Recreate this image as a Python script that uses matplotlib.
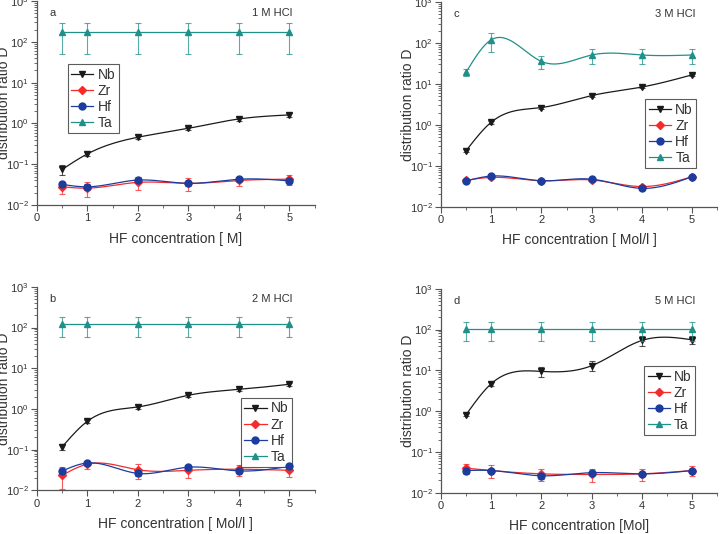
import numpy as np
import matplotlib
matplotlib.use("Agg")
import matplotlib.pyplot as plt
from matplotlib.ticker import LogLocator, MultipleLocator, NullFormatter

plt.rcParams['font.family'] = ['Liberation Sans', 'DejaVu Sans']
plt.rcParams['mathtext.default'] = 'regular'

hf = [0.5, 1, 2, 3, 4, 5]

# Panel a: 1 M HCl
a_nb = [0.075, 0.18, 0.46, 0.76, 1.29, 1.62]
a_nb_err = [0.02, 0.02, 0.05, 0.08, 0.12, 0.15]
a_zr = [0.028, 0.026, 0.036, 0.034, 0.040, 0.043]
a_zr_err = [0.009, 0.010, 0.012, 0.012, 0.010, 0.012]
a_hf = [0.032, 0.028, 0.041, 0.034, 0.043, 0.039]
a_hf_err = [0.004, 0.004, 0.004, 0.004, 0.004, 0.005]
a_ta = [170, 170, 170, 170, 170, 170]
a_ta_err = [120, 120, 120, 120, 120, 120]

# Panel b: 2 M HCl
b_nb = [0.118, 0.50, 1.12, 2.17, 3.02, 4.04]
b_nb_err = [0.02, 0.05, 0.12, 0.2, 0.3, 0.4]
b_zr = [0.0235, 0.044, 0.032, 0.031, 0.033, 0.031]
b_zr_err = [0.013, 0.010, 0.013, 0.011, 0.010, 0.010]
b_hf = [0.030, 0.047, 0.026, 0.037, 0.030, 0.039]
b_hf_err = [0.004, 0.004, 0.004, 0.003, 0.004, 0.003]
b_ta = [120, 120, 120, 120, 120, 120]
b_ta_err = [60, 60, 60, 60, 60, 60]

# Panel c: 3 M HCl
c_nb = [0.234, 1.16, 2.65, 5.2, 8.4, 16.7]
c_nb_err = [0.02, 0.1, 0.2, 0.4, 0.6, 1.2]
c_zr = [0.044, 0.052, 0.043, 0.045, 0.031, 0.054]
c_zr_err = [0.002, 0.002, 0.002, 0.002, 0.002, 0.002]
c_hf = [0.0425, 0.056, 0.043, 0.047, 0.028, 0.054]
c_hf_err = [0.002, 0.002, 0.002, 0.002, 0.002, 0.002]
c_ta = [19.5, 120, 35.5, 51, 51, 51]
c_ta_err = [4, 60, 12, 20, 20, 20]

# Panel d: 5 M HCl
d_nb = [0.82, 4.7, 9.4, 13, 54, 56]
d_nb_err = [0.08, 0.5, 2.5, 3.5, 15, 13]
d_zr = [0.040, 0.035, 0.029, 0.028, 0.029, 0.035]
d_zr_err = [0.012, 0.012, 0.010, 0.010, 0.010, 0.010]
d_hf = [0.035, 0.035, 0.026, 0.031, 0.029, 0.035]
d_hf_err = [0.004, 0.004, 0.004, 0.004, 0.004, 0.004]
d_ta = [105, 105, 105, 105, 105, 105]
d_ta_err = [52, 52, 52, 52, 52, 52]

labels = ['Nb', 'Zr', 'Hf', 'Ta']
colors = ['#1a1a1a', '#f52a2a', '#1c3c9e', '#20908a']
markers = ['v', 'D', 'o', '^']
msizes = [5, 3.6, 5, 5]


def smooth(x, y):
    """Natural cubic spline through the points in log10 space (drawing helper)."""
    x = np.asarray(x, float)
    ly = np.log10(np.asarray(y, float))
    n = len(x)
    h = np.diff(x)
    A = np.zeros((n, n))
    r = np.zeros(n)
    A[0, 0] = A[-1, -1] = 1
    for i in range(1, n - 1):
        A[i, i - 1] = h[i - 1]
        A[i, i] = 2 * (h[i - 1] + h[i])
        A[i, i + 1] = h[i]
        r[i] = 3 * ((ly[i + 1] - ly[i]) / h[i] - (ly[i] - ly[i - 1]) / h[i - 1])
    c = np.linalg.solve(A, r)
    xs, ys = [], []
    for i in range(n - 1):
        t = np.linspace(0, h[i], 40)
        b = (ly[i + 1] - ly[i]) / h[i] - h[i] * (2 * c[i] + c[i + 1]) / 3
        d = (c[i + 1] - c[i]) / (3 * h[i])
        xs.append(x[i] + t)
        ys.append(ly[i] + b * t + c[i] * t ** 2 + d * t ** 3)
    return np.concatenate(xs), 10 ** np.concatenate(ys)


panels = [
    dict(pos=[0.0509, 0.616, 0.382, 0.382], tag='a', hcl='1 M HCl', xlabel='HF concentration [ M]',
         data=[(a_nb, a_nb_err), (a_zr, a_zr_err), (a_hf, a_hf_err), (a_ta, a_ta_err)],
         smooth=[True, True, True, False], leg=(0.11, 0.69)),
    dict(pos=[0.6066, 0.613, 0.380, 0.383], tag='c', hcl='3 M HCl', xlabel='HF concentration [ Mol/l ]',
         data=[(c_nb, c_nb_err), (c_zr, c_zr_err), (c_hf, c_hf_err), (c_ta, c_ta_err)],
         smooth=[True, True, True, True], leg=(0.74, 0.526)),
    dict(pos=[0.0509, 0.0818, 0.382, 0.381], tag='b', hcl='2 M HCl', xlabel='HF concentration [ Mol/l ]',
         data=[(b_nb, b_nb_err), (b_zr, b_zr_err), (b_hf, b_hf_err), (b_ta, b_ta_err)],
         smooth=[True, True, True, False], leg=(0.734, 0.454)),
    dict(pos=[0.6066, 0.0773, 0.380, 0.382], tag='d', hcl='5 M HCl', xlabel='HF concentration [Mol]',
         data=[(d_nb, d_nb_err), (d_zr, d_zr_err), (d_hf, d_hf_err), (d_ta, d_ta_err)],
         smooth=[True, True, True, False], leg=(0.735, 0.621)),
]

fig = plt.figure(figsize=(7.27, 5.34), dpi=100)

for p in panels:
    ax = fig.add_axes(p['pos'])
    handles = []
    for k, (vals, err) in enumerate(p['data']):
        col = colors[k]
        ax.errorbar(hf, vals, yerr=err, fmt='none', ecolor=col, elinewidth=0.8,
                    capsize=2.5, capthick=0.8, alpha=0.75, zorder=2 + k)
        if p['smooth'][k]:
            xs, ys = smooth(hf, vals)
        else:
            xs, ys = hf, vals
        ax.plot(xs, ys, '-', color=col, lw=0.9, zorder=3 + k)
        ax.plot(hf, vals, linestyle='none', marker=markers[k], ms=msizes[k],
                color=col, zorder=4 + k)
        h, = ax.plot([], [], '-', color=col, lw=0.9, marker=markers[k], ms=msizes[k])
        handles.append(h)
    ax.set_yscale('log')
    ax.set_ylim(1e-2, 1e3)
    ax.set_xlim(0, 5.5)
    ax.xaxis.set_major_locator(MultipleLocator(1))
    ax.xaxis.set_minor_locator(MultipleLocator(0.5))
    ax.yaxis.set_major_locator(LogLocator(base=10, numticks=10))
    ax.yaxis.set_minor_locator(LogLocator(base=10, subs=np.arange(2, 10), numticks=20))
    ax.yaxis.set_minor_formatter(NullFormatter())
    for s in ['top', 'right']:
        ax.spines[s].set_visible(False)
    for s in ['left', 'bottom']:
        ax.spines[s].set_color('#555555')
        ax.spines[s].set_linewidth(0.9)
    ax.tick_params(which='major', direction='out', length=4, width=0.8, colors='#555555',
                   labelsize=8, labelcolor='#333333', pad=2)
    ax.tick_params(which='minor', direction='out', length=2, width=0.6, colors='#555555')
    ax.set_xlabel(p['xlabel'], fontsize=10, color='#333333', labelpad=6)
    ax.set_ylabel('distribution ratio D', fontsize=10, color='#333333')
    ax.yaxis.set_label_coords(-0.093, 0.5)
    ax.text(0.045, 0.94, p['tag'], transform=ax.transAxes, fontsize=8, color='#333333',
            ha='left', va='center')
    ax.text(0.92, 0.94, p['hcl'], transform=ax.transAxes, fontsize=8, color='#333333',
            ha='right', va='center')
    leg = ax.legend(handles, labels, loc='upper left', bbox_to_anchor=p['leg'],
                    fontsize=10, frameon=True, fancybox=False, handlelength=1.6,
                    handletextpad=0.3, borderpad=0.25, labelspacing=0.15,
                    borderaxespad=0, numpoints=1)
    leg.get_frame().set_edgecolor('#333333')
    leg.get_frame().set_linewidth(0.8)
    for t in leg.get_texts():
        t.set_color('#333333')

fig.savefig('out.png', dpi=100)
